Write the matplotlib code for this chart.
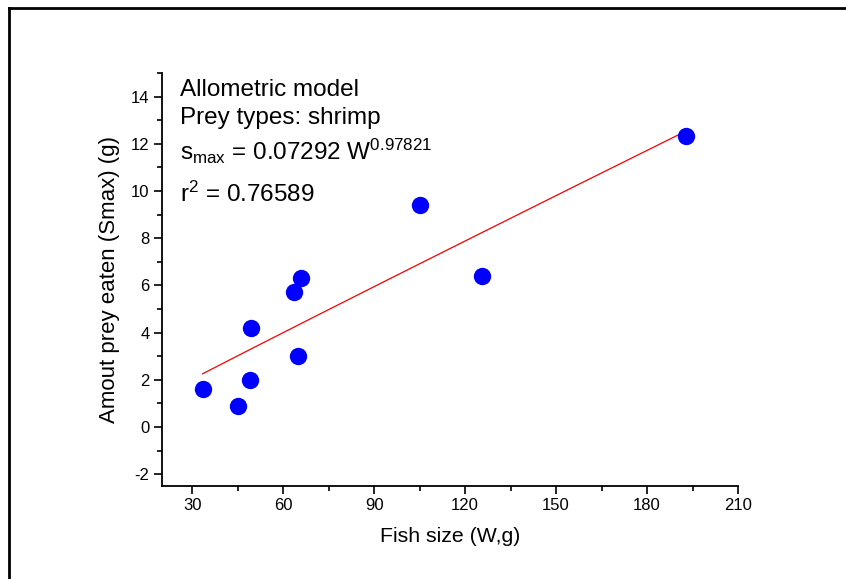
import matplotlib
matplotlib.use("Agg")
import matplotlib.pyplot as plt
import numpy as np
from matplotlib.lines import Line2D
from matplotlib.ticker import MultipleLocator

plt.rcParams['font.family'] = ['Liberation Sans', 'DejaVu Sans']
plt.rcParams['mathtext.fontset'] = 'custom'
plt.rcParams['mathtext.rm'] = 'Liberation Sans'
plt.rcParams['mathtext.it'] = 'Liberation Sans:italic'
plt.rcParams['mathtext.bf'] = 'Liberation Sans:bold'
plt.rcParams['axes.unicode_minus'] = False

# Data
fish_size = [33.4, 45.1, 49.0, 49.4, 63.4, 64.8, 65.8, 105.2, 125.4, 192.7]
prey_eaten = [1.59, 0.90, 2.00, 4.19, 5.70, 3.00, 6.33, 9.41, 6.39, 12.31]
# Allometric model parameters (from the annotation)
coef_a = 0.07292
coef_b = 0.97821
x_ticks = [30, 60, 90, 120, 150, 180, 210]
y_ticks = [-2, 0, 2, 4, 6, 8, 10, 12, 14]

fig = plt.figure(figsize=(8.46, 5.79), dpi=100)
ax = fig.add_axes([162/846, 1-486/579, 576/846, 413/579])

# fitted curve
xf = np.linspace(min(fish_size), max(fish_size), 200)
yf = coef_a * xf ** coef_b
ax.plot(xf, yf, color='#ff0000', lw=0.9, zorder=2)
ax.plot(fish_size, prey_eaten, 'o', color='#0000ff', markersize=12.5,
        markeredgewidth=0, zorder=3)

ax.set_xlim(20, 210)
ax.set_ylim(-2.5, 15)
ax.set_xticks(x_ticks)
ax.set_yticks(y_ticks)
ax.xaxis.set_minor_locator(MultipleLocator(15))
ax.yaxis.set_minor_locator(MultipleLocator(1))
for s in ['top', 'right']:
    ax.spines[s].set_visible(False)
for s in ['left', 'bottom']:
    ax.spines[s].set_linewidth(1.3)
ax.tick_params(which='major', length=6, width=1.2, labelsize=12, pad=3)
ax.tick_params(which='minor', length=3.5, width=1.2)

ax.set_xlabel('Fish size (W,g)', fontsize=15.3, labelpad=10)
ax.set_ylabel('Amout prey eaten (Smax) (g)', fontsize=16, labelpad=8)

tx = 0.031
fs = 17.5
ax.text(tx, 0.944, 'Allometric model', transform=ax.transAxes, fontsize=fs, va='baseline')
ax.text(tx, 0.8765, 'Prey types: shrimp', transform=ax.transAxes, fontsize=fs, va='baseline')
ax.text(tx, 0.789, r'$\mathregular{s_{max}}$ = 0.07292 W$\mathregular{^{0.97821}}$',
        transform=ax.transAxes, fontsize=fs, va='baseline')
ax.text(tx, 0.688, r'$\mathregular{r^2}$ = 0.76589', transform=ax.transAxes, fontsize=fs, va='baseline')

# outer frame (left and top edges)
fig.add_artist(Line2D([9/846, 9/846], [0, 1-8/579], transform=fig.transFigure, color='black', lw=2))
fig.add_artist(Line2D([9/846, 1], [1-8/579, 1-8/579], transform=fig.transFigure, color='black', lw=2))

fig.savefig('out.png', dpi=100)
